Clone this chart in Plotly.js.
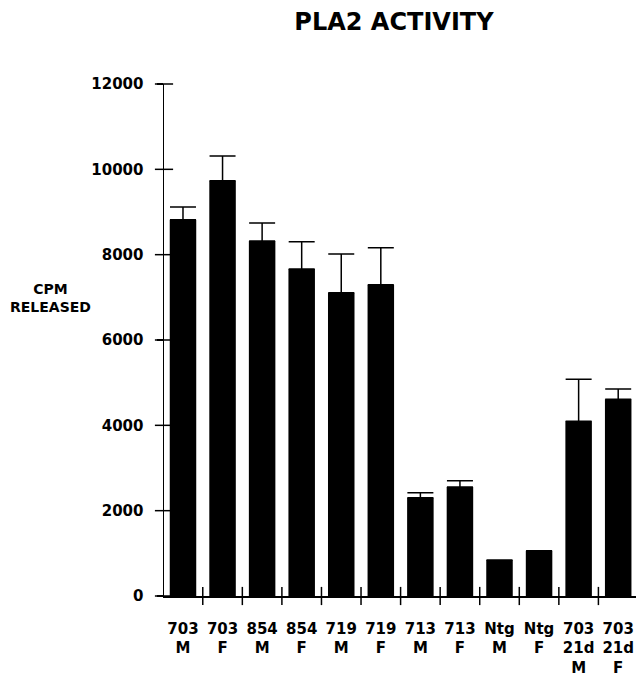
<!DOCTYPE html>
<html>
<head>
<meta charset="utf-8">
<script src="https://cdn.plot.ly/plotly-3.0.1.min.js"></script>
<style>html,body{margin:0;padding:0;background:#fff;}#chart{width:636px;height:677px;}</style>
</head>
<body>
<div id="chart"></div>
<script>
const categories = ["703<br>M", "703<br>F", "854<br>M", "854<br>F", "719<br>M", "719<br>F",
                    "713<br>M", "713<br>F", "Ntg<br>M", "Ntg<br>F", "703<br>21d<br>M", "703<br>21d<br>F"];
const cpmReleased = [8820, 9734, 8320, 7664, 7109, 7297, 2304, 2555, 844, 1062, 4094, 4610];
const errorUp = [297, 578, 422, 640, 906, 866, 117, 147, 0, 0, 985, 241];
const errorDown = [0, 0, 0, 0, 0, 0, 0, 0, 0, 0, 0, 0];
const yTicks = [0, 2000, 4000, 6000, 8000, 10000, 12000];
const yTickText = ["0", "2000", "4000", "6000", "8000", "10000", "12000"];

const fontFam = "DejaVu Sans, Liberation Sans, sans-serif";
const xRange = [-0.48, 11.45];

const positions = categories.map((c, i) => i);
// boundaries between categories (where the crossing x ticks sit)
const boundaries = categories.slice(1).map((c, i) => i + 0.5);

const bars = {
  type: 'bar',
  x: positions,
  y: cpmReleased,
  marker: {color: '#000', line: {width: 0}},
  error_y: {type: 'data', symmetric: false, array: errorUp, arrayminus: errorDown,
            color: '#000', thickness: 1.5, width: 13}
};
// crossing tick marks on the x axis
const xCross = {
  type: 'scatter', mode: 'markers',
  x: boundaries, y: boundaries.map(() => 0),
  marker: {symbol: 'line-ns', size: 13, color: '#000', line: {width: 1.5, color: '#000'}},
  cliponaxis: false, showlegend: false, hoverinfo: 'skip'
};
// crossing tick marks on the y axis
const yCross = {
  type: 'scatter', mode: 'markers',
  x: yTicks.map(() => xRange[0]), y: yTicks,
  marker: {symbol: 'line-ew', size: 13, color: '#000', line: {width: 1.5, color: '#000'}},
  cliponaxis: false, showlegend: false, hoverinfo: 'skip'
};

const layout = {
  width: 636, height: 677,
  margin: {l: 164, r: 0, t: 84, b: 81, pad: 0},
  paper_bgcolor: '#fff', plot_bgcolor: '#fff',
  showlegend: false,
  bargap: 0.33,
  title: {text: 'PLA2 ACTIVITY', x: 394/636, xref: 'container', xanchor: 'center',
          y: 1 - 22/677, yref: 'container', yanchor: 'middle',
          font: {family: fontFam, size: 24, weight: 'bold', color: '#000'}},
  xaxis: {
    type: 'linear', range: xRange,
    tickmode: 'array', tickvals: positions, ticktext: categories,
    showline: true, linecolor: '#000', linewidth: 1.5,
    showgrid: false, zeroline: false,
    ticks: '', tickangle: 0, ticklabelstandoff: 18,
    tickfont: {family: fontFam, size: 15, weight: 'bold', color: '#000'},
    fixedrange: true
  },
  yaxis: {
    range: [0, 12000],
    tickmode: 'array', tickvals: yTicks, ticktext: yTickText,
    showline: true, linecolor: '#000', linewidth: 1.5,
    showgrid: false, zeroline: false,
    ticks: 'outside', ticklen: 6, tickwidth: 1.5, tickcolor: '#000',
    ticklabelstandoff: 10,
    tickfont: {family: fontFam, size: 15, weight: 'bold', color: '#000'},
    fixedrange: true
  },
  annotations: [{
    text: 'CPM<br>RELEASED', xref: 'paper', yref: 'paper',
    x: (50 - 164) / 472, y: (596 - 298) / 512, xanchor: 'center', yanchor: 'middle',
    showarrow: false, align: 'center',
    font: {family: fontFam, size: 14, weight: 'bold', color: '#000'}
  }]
};

Plotly.newPlot('chart', [bars, xCross, yCross], layout, {displayModeBar: false, staticPlot: true});
</script>
</body>
</html>
